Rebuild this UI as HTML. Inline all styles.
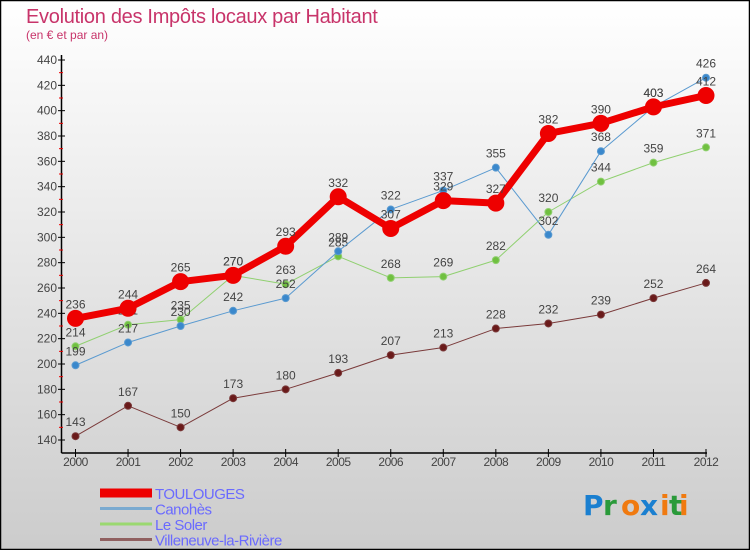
<!DOCTYPE html>
<html><head><meta charset="utf-8"><style>
html,body{margin:0;padding:0}
body{width:750px;height:550px;overflow:hidden;font-family:"Liberation Sans",sans-serif}
</style></head><body>
<svg id="chart" width="750" height="550" xmlns="http://www.w3.org/2000/svg" font-family="Liberation Sans, sans-serif">
<defs><linearGradient id="bg" x1="0" y1="0" x2="0" y2="1"><stop offset="0" stop-color="#ffffff"/><stop offset="1" stop-color="#cccccc"/></linearGradient></defs>
<rect x="0.5" y="0.5" width="749" height="549" fill="url(#bg)" stroke="#000" stroke-width="1.5"/>
<text x="26" y="23" font-size="20" fill="#c8346a" letter-spacing="-0.3">Evolution des Impôts locaux par Habitant</text>
<text x="26" y="39" font-size="12" fill="#c8346a">(en € et par an)</text>
<g id="axes"></g>
<g id="series"></g>
<g id="legend"></g>
<g font-size="28" font-weight="bold" font-family="DejaVu Sans, sans-serif">
<text x="583" y="515" fill="#1a7fd0">P</text><text x="603" y="515" fill="#2a9a3a">r</text><text x="621" y="515" fill="#f07a10">o</text><text x="640" y="515" fill="#1a7fd0">x</text><text x="660" y="515" fill="#f07a10">i</text><text x="669" y="515" fill="#2a9a3a">t</text><text x="679" y="515" fill="#f07a10">i</text>
</g>
</svg>
<script>
const years=[2000,2001,2002,2003,2004,2005,2006,2007,2008,2009,2010,2011,2012];
const toulouges=[236,244,265,270,293,332,307,329,327,382,390,403,412];
const canohes=[199,217,230,242,252,289,322,337,355,302,368,403,426];
const leSoler=[214,231,235,270,263,285,268,269,282,320,344,359,371];
const villeneuve=[143,167,150,173,180,193,207,213,228,232,239,252,264];
const yTicks=[140,160,180,200,220,240,260,280,300,320,340,360,380,400,420,440];
const NS="http://www.w3.org/2000/svg";
const x=i=>75.5+i*(706-75.5)/12;
const y=v=>440-(v-140)*(380/300);
function mk(t,a,p){const e=document.createElementNS(NS,t);for(const k in a)e.setAttribute(k,a[k]);(p||document.getElementById('series')).appendChild(e);return e;}
const ax=document.getElementById('axes');
let e=mk('line',{x1:61.5,y1:55,x2:61.5,y2:453,stroke:'#000','stroke-width':1.5},ax);


e=mk('line',{x1:61.5,y1:453,x2:707,y2:453,stroke:'#000','stroke-width':1.5},ax);


yTicks.forEach((v,i)=>{
 mk('line',{x1:58,y1:y(v),x2:65,y2:y(v),stroke:'#000'},ax);
 if(i<yTicks.length-1)mk('line',{x1:59,y1:y(v+10),x2:63,y2:y(v+10),stroke:'#e00'},ax);
 const t=mk('text',{x:57,y:y(v)+4,'text-anchor':'end','font-size':12,fill:'#444'},ax);t.textContent=v;
 
 
});
years.forEach((yr,i)=>{
 mk('line',{x1:x(i),y1:449,x2:x(i),y2:457,stroke:'#000'},ax);
 const t=mk('text',{x:x(i),y:466,'text-anchor':'middle','font-size':12,fill:'#444','letter-spacing':'-0.5'},ax);t.textContent=yr;
 
 
});
function series(vals,color,w,r,dot,name){
 const p=mk('polyline',{points:vals.map((v,i)=>x(i)+','+y(v)).join(' '),fill:'none',stroke:color,'stroke-width':w,'stroke-linejoin':'round'});
 
 
 vals.forEach((v,i)=>{
  const c=mk('circle',{cx:x(i),cy:y(v),r:r,fill:dot,stroke:color,'stroke-width':1});
  
  
  const t=mk('text',{x:x(i),y:y(v)-10,'text-anchor':'middle','font-size':12,fill:'#444'});t.textContent=v;
  
  
 });
}
series(villeneuve,'#7a3a3a',1,3.5,'#6a1a1a','villeneuve');
series(leSoler,'#90d070',1,3.5,'#70c040','le-soler');
series(canohes,'#5a9ad0',1,3.5,'#3a88cc','canohes');
series(toulouges,'#ee0000',7,8,'#ee0000','toulouges');
const lg=document.getElementById('legend');
const items=[['TOULOUGES','#ee0000',9],['Canohès','#7aaad0',3],['Le Soler','#9ad870',3],['Villeneuve-la-Rivière','#906060',3]];
items.forEach((it,i)=>{
 const yy=493+i*15.5;
 const r=mk('rect',{x:100,y:yy-it[2]/2,width:52,height:it[2],fill:it[1]},lg);
 
 
 const t=mk('text',{x:155,y:yy+6,'font-size':15,fill:'#6a6aff','letter-spacing':'-0.5'},lg);t.textContent=it[0];
 
 
});
</script>
</body></html>
